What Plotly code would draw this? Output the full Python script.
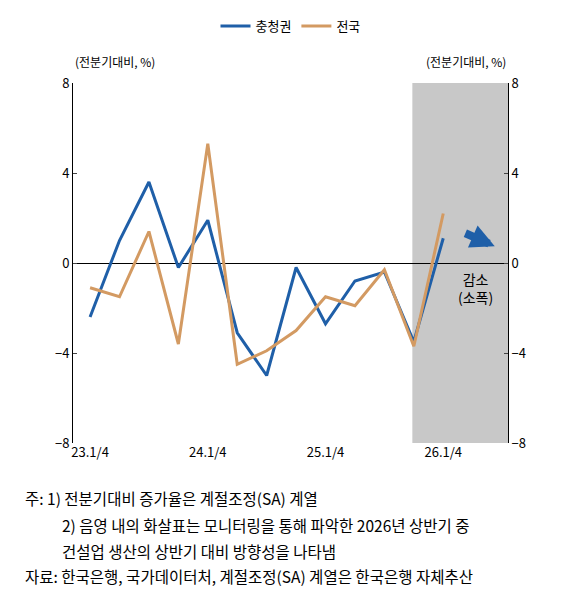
import plotly.graph_objects as go

quarters = ["23.1/4", "23.2/4", "23.3/4", "23.4/4", "24.1/4", "24.2/4", "24.3/4",
            "24.4/4", "25.1/4", "25.2/4", "25.3/4", "25.4/4", "26.1/4"]
chungcheong = [-2.4, 1.0, 3.6, -0.2, 1.9, -3.1, -5.0, -0.2, -2.7, -0.8, -0.4, -3.5, 1.1]
nationwide = [-1.1, -1.5, 1.4, -3.6, 5.3, -4.5, -3.9, -3.0, -1.5, -1.9, -0.3, -3.7, 2.2]
tick_labels = ["23.1/4", "24.1/4", "25.1/4", "26.1/4"]

BLUE = "#1f5fa8"
ORANGE = "#d39a62"
FONT = "Noto Sans CJK KR"

xs = list(range(len(quarters)))
tick_pos = [quarters.index(t) for t in tick_labels]

fig = go.Figure()
fig.add_trace(go.Scatter(x=xs, y=chungcheong, mode="lines", name="충청권",
                         line=dict(color=BLUE, width=3)))
fig.add_trace(go.Scatter(x=xs, y=nationwide, mode="lines", name="전국",
                         line=dict(color=ORANGE, width=3)))
# invisible trace to get the right-hand axis
fig.add_trace(go.Scatter(x=[0], y=[0], yaxis="y2", mode="markers",
                         marker=dict(opacity=0), showlegend=False, hoverinfo="skip"))

# shaded forecast region
fig.add_shape(type="rect", xref="x", yref="paper", x0=10.95, x1=14.2, y0=0, y1=1,
              fillcolor="#c8c8c8", line=dict(width=0), layer="below")

# arrow (thick block style)
fig.add_annotation(x=13.75, y=0.75, ax=12.7, ay=1.35, xref="x", yref="y",
                   axref="x", ayref="y", text="", showarrow=True,
                   arrowhead=2, arrowsize=0.6, arrowwidth=8, arrowcolor=BLUE)
fig.add_annotation(x=13.1, y=-1.1, xref="x", yref="y", text="감소<br>(소폭)",
                   showarrow=False, font=dict(size=14, color="black"))

# axis unit labels
fig.add_annotation(x=0, y=1.03, xref="paper", yref="paper", text="(전분기대비, %)",
                   showarrow=False, xanchor="left", yanchor="bottom", font=dict(size=12))
fig.add_annotation(x=1.0, y=1.03, xref="paper", yref="paper", text="(전분기대비, %)",
                   showarrow=False, xanchor="right", yanchor="bottom", font=dict(size=12))

# footnotes
notes = [
    (-0.115, -0.153, "주: 1) 전분기대비 증가율은 계절조정(SA) 계열"),
    (-0.03, -0.228, "2) 음영 내의 화살표는 모니터링을 통해 파악한 2026년 상반기 중"),
    (-0.03, -0.30, "건설업 생산의 상반기 대비 방향성을 나타냄"),
    (-0.115, -0.37, "자료: 한국은행, 국가데이터처, 계절조정(SA) 계열은 한국은행 자체추산"),
]
for x, y, t in notes:
    fig.add_annotation(x=x, y=y, xref="paper", yref="paper", text=t, showarrow=False,
                       xanchor="left", yanchor="middle", font=dict(size=15.5, color="black"))

fig.update_layout(
    width=576, height=597,
    margin=dict(l=65, r=76, t=75, b=162, autoexpand=False),
    plot_bgcolor="white", paper_bgcolor="white",
    font=dict(family=FONT, size=13, color="black"),
    legend=dict(orientation="h", x=0.5, xanchor="center", yref="container",
                y=0.995, yanchor="top", font=dict(size=13)),
    xaxis=dict(range=[-0.58, 14.2], tickvals=tick_pos, ticktext=tick_labels,
               showgrid=False, zeroline=False, showline=False, ticks=""),
    yaxis=dict(range=[-8, 8], tickvals=[-8, -4, 0, 4, 8],
               ticktext=["\u22128", "\u22124", "0", "4", "8"],
               showgrid=False, zeroline=True, zerolinecolor="black", zerolinewidth=1,
               showline=True, linecolor="black", ticks="inside", ticklen=4),
    yaxis2=dict(range=[-8, 8], tickvals=[-8, -4, 0, 4, 8],
                ticktext=["\u22128", "\u22124", "0", "4", "8"],
                overlaying="y", side="right", showgrid=False, zeroline=False,
                showline=True, linecolor="black", ticks="inside", ticklen=4),
    showlegend=True,
)

fig.write_html("out.html")
